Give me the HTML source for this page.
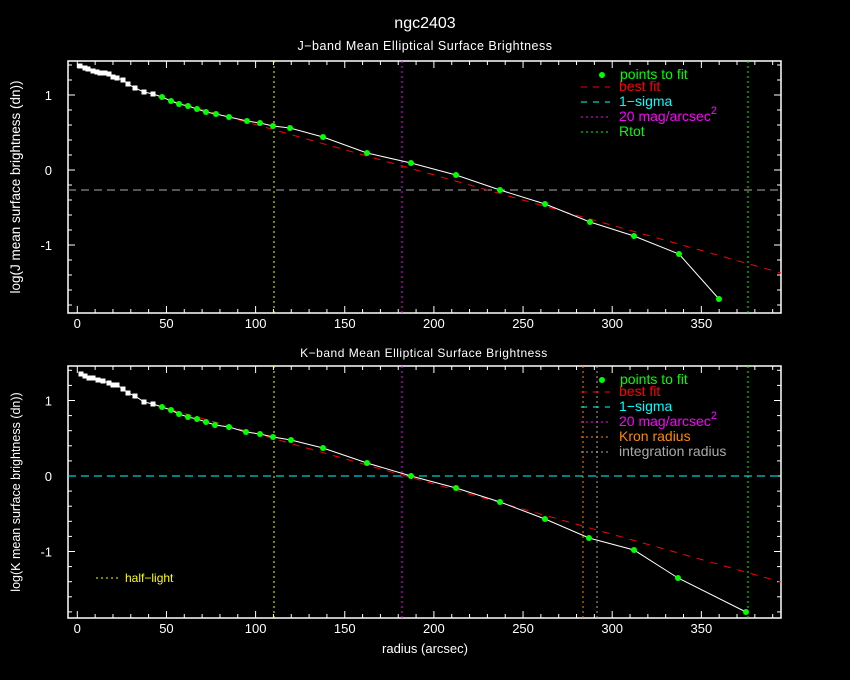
<!DOCTYPE html>
<html><head><meta charset="utf-8"><style>
html,body{margin:0;padding:0;background:#000;}
svg text{font-family:"Liberation Sans",sans-serif;}
</style></head><body>
<svg id="s" width="850" height="680" xmlns="http://www.w3.org/2000/svg" style="display:block;background:#000">
<text x="425" y="28" fill="#fff" font-size="16" text-anchor="middle">ngc2403</text>
<text x="425" y="50" fill="#fff" font-size="12.5" text-anchor="middle" letter-spacing="0.5">J−band Mean Elliptical Surface Brightness</text>
<text x="424" y="357" fill="#fff" font-size="12" text-anchor="middle" letter-spacing="0.5">K−band Mean Elliptical Surface Brightness</text>
<text x="425" y="653" fill="#fff" font-size="13" text-anchor="middle">radius (arcsec)</text>
<text transform="translate(20,187) rotate(-90)" fill="#fff" font-size="13.5" text-anchor="middle">log(J mean surface brightness (dn))</text>
<text transform="translate(20,492) rotate(-90)" fill="#fff" font-size="12.5" text-anchor="middle">log(K mean surface brightness (dn))</text>
<g id="g"></g>
</svg>
<script>
const g=document.getElementById('g');let h='';
const X0=77.3,XS=1.783,L=68,R=781;
function px(v){return X0+v*XS;}
function panel(top,bot,y0,ys,white,green,fit,sig,sigc,vl,legend){
  h+=`<rect x="${L}" y="${top}" width="${R-L}" height="${bot-top}" fill="none" stroke="#fff" stroke-width="1.5"/>`;
  for(let v=0;v<=390;v+=10){const x=px(v);const big=v%50==0;const l=big?7:4;
    h+=`<line x1="${x}" y1="${bot}" x2="${x}" y2="${bot-l}" stroke="#fff"/><line x1="${x}" y1="${top}" x2="${x}" y2="${top+l}" stroke="#fff"/>`;
    if(big)h+=`<text x="${x}" y="${bot+15}" fill="#fff" font-size="13" text-anchor="middle">${v}</text>`;}
  for(let k=-10;k<=8;k++){const v=k*0.2;const y=y0-v*ys;if(y<top||y>bot)continue;const big=k%5==0;const l=big?7:4;
    h+=`<line x1="${L}" y1="${y}" x2="${L+l}" y2="${y}" stroke="#fff"/><line x1="${R}" y1="${y}" x2="${R-l}" y2="${y}" stroke="#fff"/>`;
    if(big)h+=`<text x="${L-16}" y="${y+5}" fill="#fff" font-size="13" text-anchor="end">${k/5==0?'0':(k/5)}</text>`;}
  for(const [x,c] of vl)h+=`<line x1="${x}" y1="${top}" x2="${x}" y2="${bot}" stroke="${c}" stroke-dasharray="2,3"/>`;
  h+=`<line x1="${L}" y1="${sig}" x2="${R}" y2="${sig}" stroke="${sigc}" stroke-dasharray="8,5"/>`;
  h+=`<line x1="${fit[0]}" y1="${fit[1]}" x2="${fit[2]}" y2="${fit[3]}" stroke="#f00" stroke-dasharray="7,7"/>`;
  const all=white.concat(green);
  h+=`<polyline points="${all.map(p=>p.join(',')).join(' ')}" fill="none" stroke="#fff"/>`;
  for(const p of white)h+=`<rect x="${p[0]-2.5}" y="${p[1]-2.5}" width="5" height="5" fill="#fff"/>`;
  for(const p of green)h+=`<circle cx="${p[0]}" cy="${p[1]}" r="3" fill="#0f0"/>`;
  let ly=top+12;
  h+=`<circle cx="602" cy="${ly+2}" r="3" fill="#0f0"/><text x="620" y="${ly+6}" fill="#0f0" font-size="14">points to fit</text>`;
  legend.forEach((it,i)=>{const y=ly+14+i*15;
    h+=`<line x1="581" y1="${y}" x2="610" y2="${y}" stroke="${it[1]}" stroke-dasharray="${it[2]}"/><text x="619" y="${y+4}" fill="${it[1]}" font-size="14">${it[0]}</text>`;});
}
panel(61,313,170,75,
 [[80,66],[85,68],[88,69],[93,71],[97,72],[100,73],[105,73],[109,74],[113,77],[117,78],[123,80],[128,84],[135,88],[144,92],[153,94]],
 [[162,97],[171,101],[179,104],[188,106],[197,109],[206,112],[216,114],[229,117],[247,121],[260,123],[273,126],[290,128],[323,137],[367,153],[411,163],[456,175],[500,190],[545,204],[590,222],[634,236],[679,254],[719,299]],
 [158,97,781,273],190,"#aaa",
 [[274,"#ff0"],[402,"#f0f"],[748,"#0f0"]],
 [["best fit","#f00","6,6"],["1−sigma","#0ff","6,6"],["20 mag/arcsec<tspan dy='-7' font-size='11'>2</tspan>","#f0f","2,3"],["Rtot","#0f0","2,3"]]);
panel(366,618,476,75.5,
 [[81,374],[85,376],[89,378],[93,378],[98,380],[103,381],[109,383],[113,385],[117,385],[123,389],[128,393],[135,396],[144,402],[153,404]],
 [[162,407],[171,410],[179,414],[188,417],[197,419],[206,422],[215,425],[229,427],[246,432],[260,434],[273,437],[291,440],[323,448],[367,463],[411,476],[456,488],[500,502],[545,519],[589,538],[634,550],[678,578],[746,612]],
 [158,406,781,582],476,"#0ff",
 [[274,"#ff0"],[402,"#f0f"],[583,"#f80"],[597,"#aaa"],[748,"#0f0"]],
 [["best fit","#f00","6,6"],["1−sigma","#0ff","6,6"],["20 mag/arcsec<tspan dy='-7' font-size='11'>2</tspan>","#f0f","2,3"],["Kron radius","#f80","2,3"],["integration radius","#aaa","2,3"]]);
h+=`<line x1="96" y1="578" x2="118" y2="578" stroke="#ff0" stroke-dasharray="2,3"/><text x="125" y="582" fill="#ff0" font-size="12">half−light</text>`;
g.innerHTML=h;
</script>
</body></html>
